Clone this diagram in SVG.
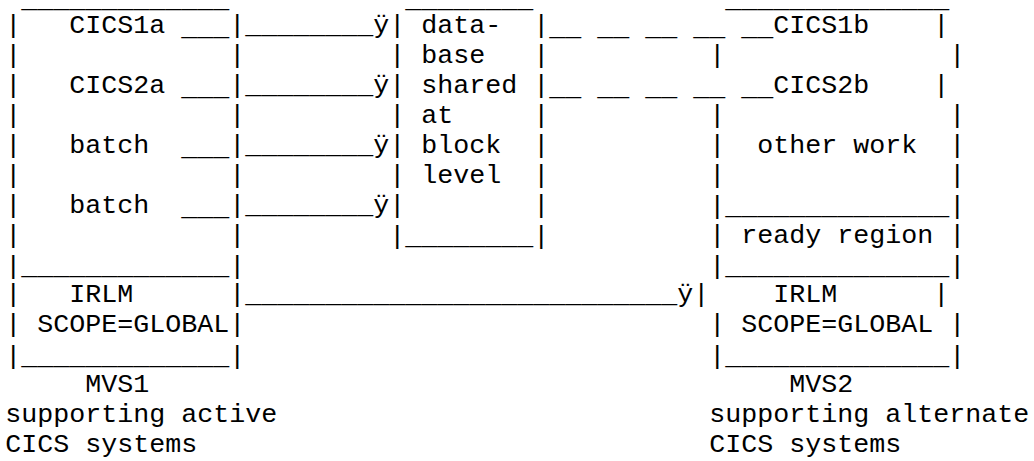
<svg xmlns="http://www.w3.org/2000/svg" width="1034" height="461" viewBox="0 0 1034 461" xml:space="preserve">
<style>
text { font-family: "Courier New", "Liberation Mono", monospace; font-size: 26.67px; fill: #000; white-space: pre; }
</style>
<rect x="0" y="0" width="1034" height="461" fill="#fff"/>
<g id="mvs1">
<text x="21.3" y="7">_____________</text>
<text x="5.3" y="33">|   CICS1a</text>
<text x="229.3" y="33">|</text>
<text x="5.3" y="62.93">|             |</text>
<text x="5.3" y="92.86">|   CICS2a</text>
<text x="229.3" y="92.86">|</text>
<text x="5.3" y="122.79">|             |</text>
<text x="5.3" y="152.72">|   batch</text>
<text x="229.3" y="152.72">|</text>
<text x="5.3" y="182.65">|             |</text>
<text x="5.3" y="212.58">|   batch</text>
<text x="229.3" y="212.58">|</text>
<text x="5.3" y="242.51">|             |</text>
<text x="5.3" y="274">|_____________|</text>
<text x="5.3" y="302.37">|   IRLM      |</text>
<text x="5.3" y="332.3">| SCOPE=GLOBAL|</text>
<text x="5.3" y="364">|_____________|</text>
<text x="85.3" y="392.16">MVS1</text>
<text x="5.3" y="422.09">supporting active</text>
<text x="5.3" y="452.02">CICS systems</text>
</g>
<g id="database">
<text x="405.3" y="7">________</text>
<text x="389.3" y="33">| data-  |</text>
<text x="389.3" y="62.93">| base   |</text>
<text x="389.3" y="92.86">| shared |</text>
<text x="389.3" y="122.79">| at     |</text>
<text x="389.3" y="152.72">| block  |</text>
<text x="389.3" y="182.65">| level  |</text>
<text x="389.3" y="212.58">|        |</text>
<text x="389.3" y="244">|________|</text>
</g>
<g id="mvs2">
<text x="725.3" y="7">______________</text>
<text x="773.3" y="33">CICS1b    |</text>
<text x="709.3" y="62.93">|              |</text>
<text x="773.3" y="92.86">CICS2b    |</text>
<text x="709.3" y="122.79">|              |</text>
<text x="709.3" y="152.72">|  other work  |</text>
<text x="709.3" y="182.65">|              |</text>
<text x="709.3" y="214">|______________|</text>
<text x="709.3" y="242.51">| ready region |</text>
<text x="709.3" y="274">|______________|</text>
<text x="693.3" y="302.37">|    IRLM      |</text>
<text x="709.3" y="332.3">| SCOPE=GLOBAL |</text>
<text x="709.3" y="364">|______________|</text>
<text x="789.3" y="392.16">MVS2</text>
<text x="709.3" y="422.09">supporting alternate</text>
<text x="709.3" y="452.02">CICS systems</text>
</g>
<g id="connectors">
<text x="181.3" y="35">___</text>
<text x="245.3" y="33">________&#255;</text>
<text x="181.3" y="94.86">___</text>
<text x="245.3" y="92.86">________&#255;</text>
<text x="181.3" y="154.72">___</text>
<text x="245.3" y="152.72">________&#255;</text>
<text x="181.3" y="214.58">___</text>
<text x="245.3" y="212.58">________&#255;</text>
<text x="549.3" y="35">__ __ __ __ __</text>
<text x="549.3" y="94.86">__ __ __ __ __</text>
<text x="245.3" y="302.37">___________________________&#255;</text>
</g>
</svg>
